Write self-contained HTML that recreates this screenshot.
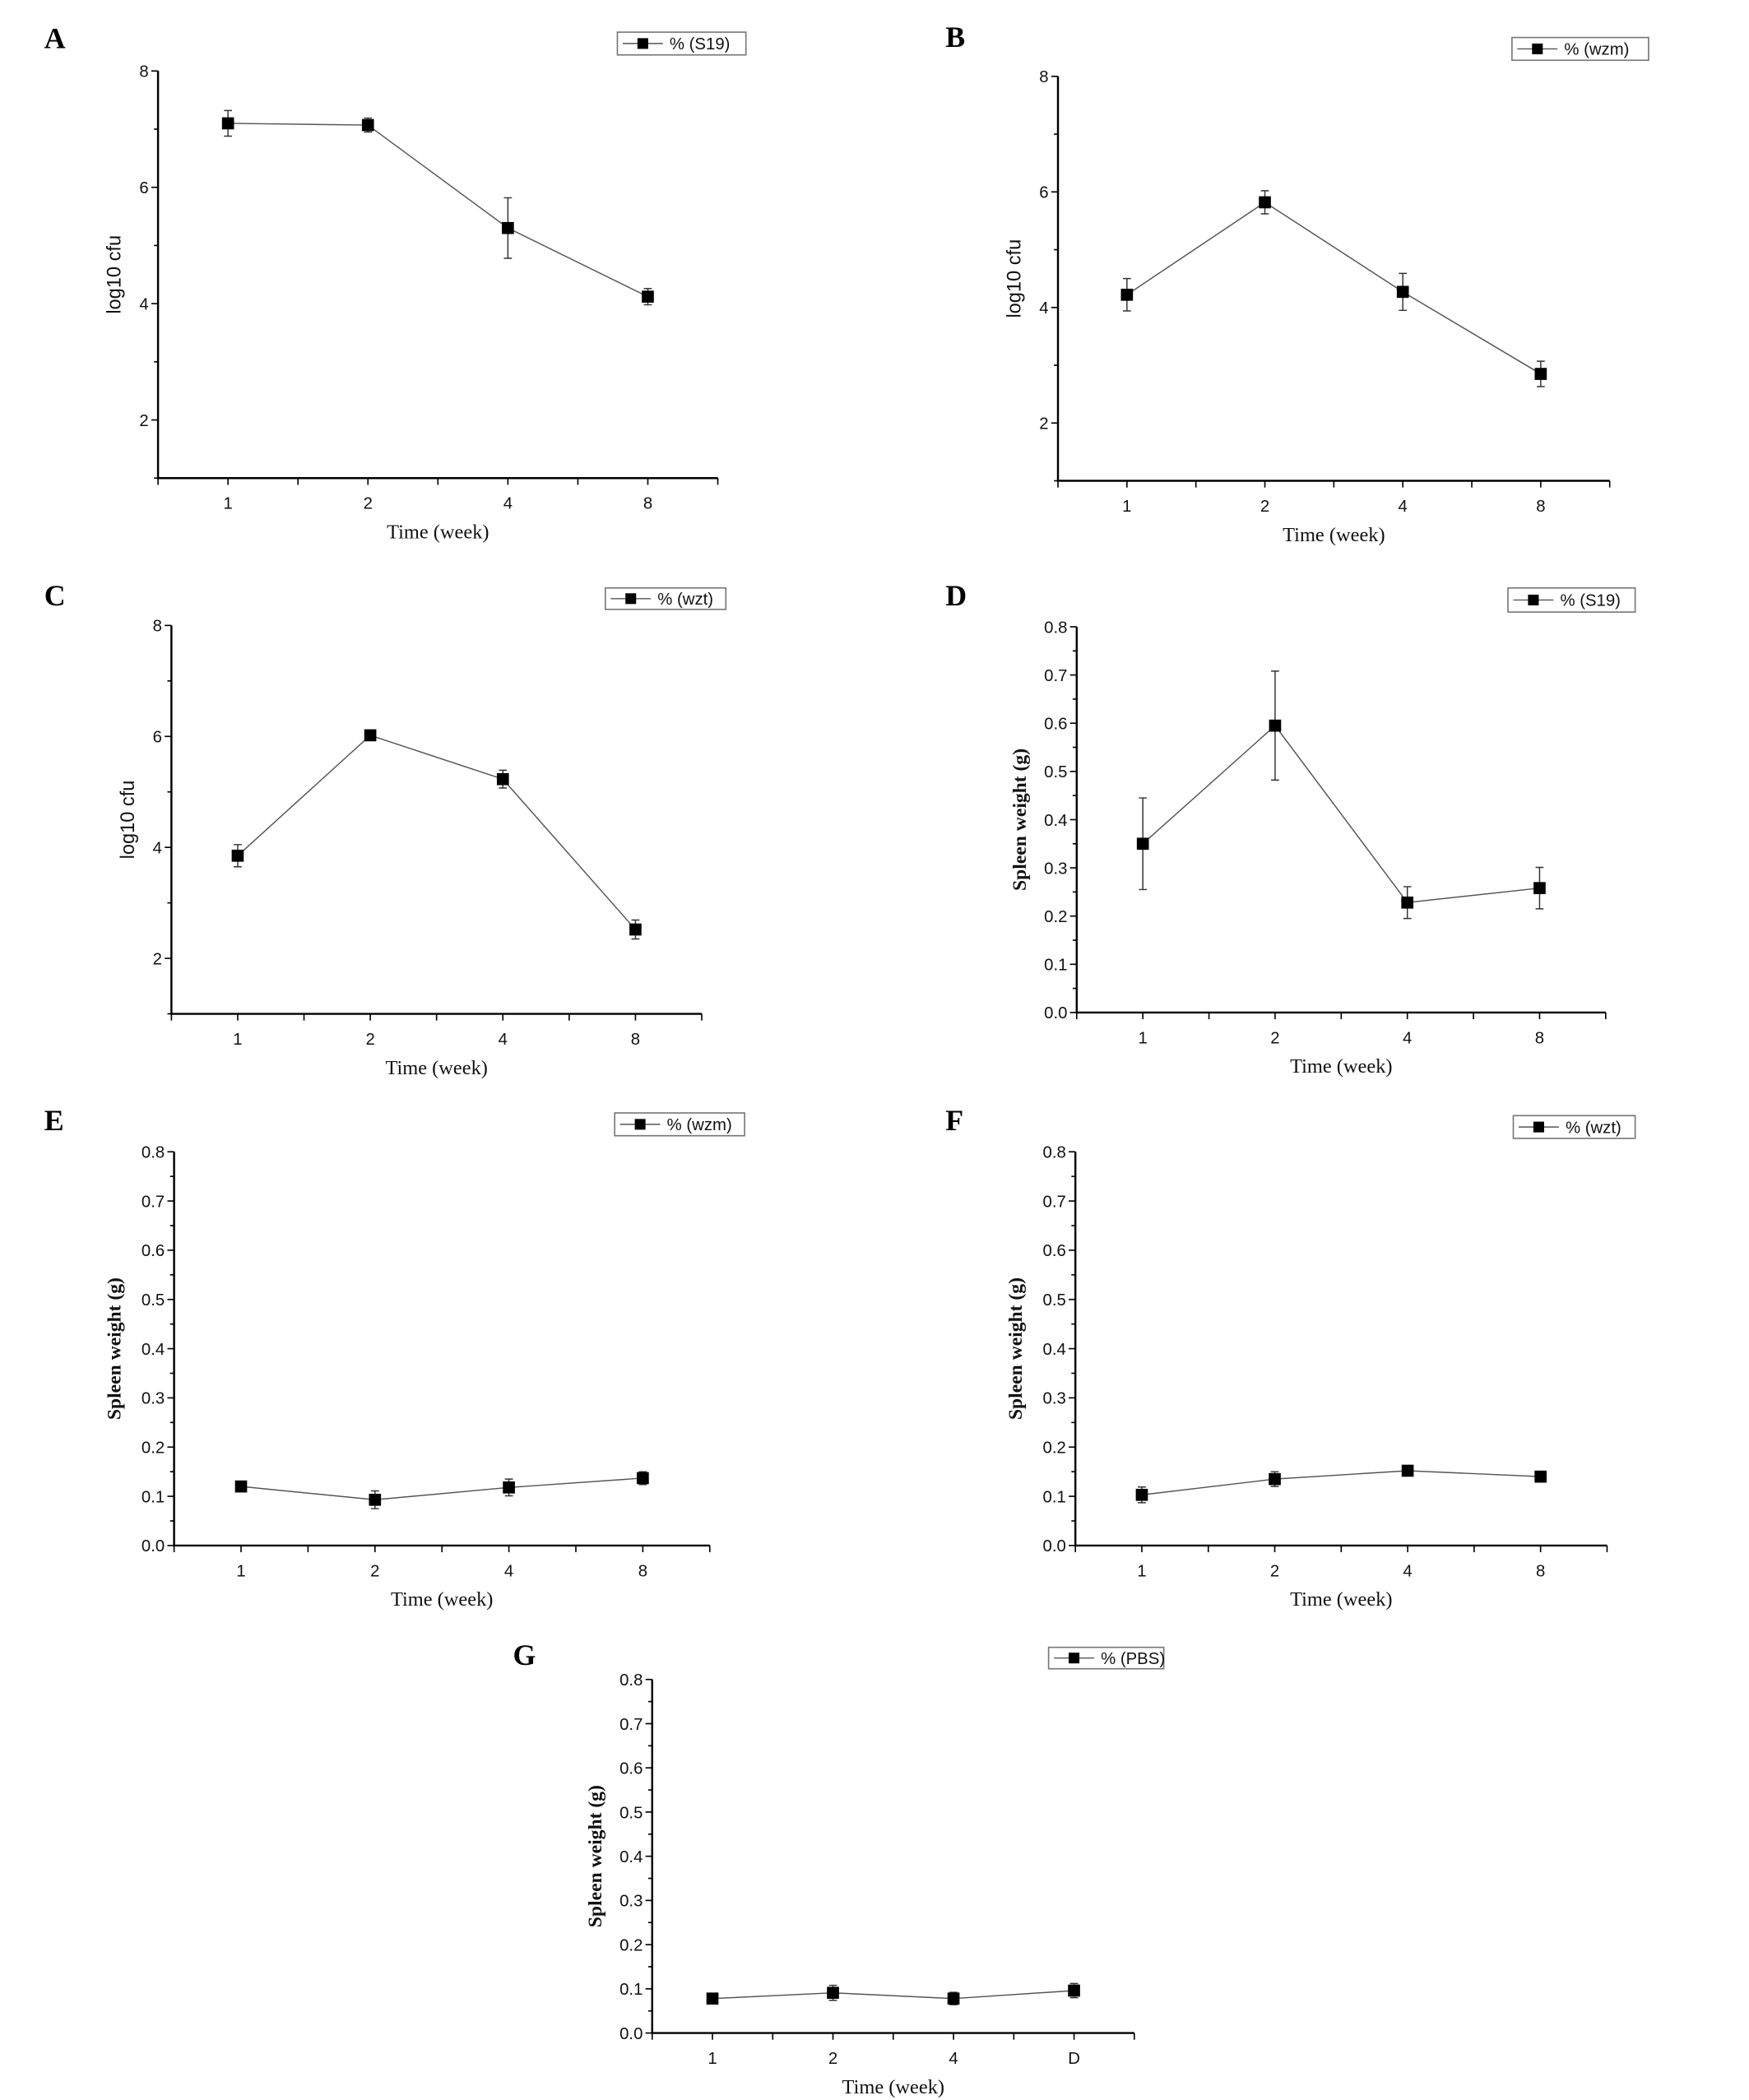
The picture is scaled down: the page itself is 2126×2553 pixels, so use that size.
<!DOCTYPE html>
<html><head><meta charset="utf-8"><style>
html,body{margin:0;padding:0;background:#fff;}
svg{display:block;}
.tick{font-family:"Liberation Sans",sans-serif;font-size:12.5px;fill:#111;}
.ttl{font-family:"Liberation Serif",serif;font-size:15px;fill:#111;}
.ttlb{font-family:"Liberation Serif",serif;font-size:14.5px;font-weight:bold;fill:#111;}
.ytl{font-family:"Liberation Sans",sans-serif;font-size:14.5px;fill:#111;}
.plab{font-family:"Liberation Serif",serif;font-size:22px;font-weight:bold;fill:#000;}
.leg{font-family:"Liberation Sans",sans-serif;font-size:12.5px;fill:#111;}
</style></head><body>
<svg id="fig" width="2126" height="2553" viewBox="0 0 1306 1568" preserveAspectRatio="none"></svg>
<script>
const weeks = ["1","2","4","8"];
const weeksG = ["1","2","4","D"];
const aVals = [7.1, 7.07, 5.3, 4.12];
const aErr = [0.22, 0.12, 0.52, 0.14];
const bVals = [4.22, 5.82, 4.27, 2.85];
const bErr = [0.28, 0.2, 0.32, 0.22];
const cVals = [3.85, 6.02, 5.23, 2.52];
const cErr = [0.2, 0.03, 0.16, 0.17];
const dVals = [0.35, 0.595, 0.228, 0.258];
const dErr = [0.095, 0.113, 0.033, 0.043];
const eVals = [0.12, 0.093, 0.118, 0.137];
const eErr = [0.01, 0.018, 0.017, 0.013];
const fVals = [0.103, 0.135, 0.152, 0.14];
const fErr = [0.016, 0.015, 0.007, 0.004];
const gVals = [0.078, 0.091, 0.078, 0.096];
const gErr = [0.006, 0.017, 0.014, 0.016];
const logTicks = ["2","4","6","8"];
const spTicks = ["0.0","0.1","0.2","0.3","0.4","0.5","0.6","0.7","0.8"];

const NS="http://www.w3.org/2000/svg";
const svg=document.getElementById('fig');
function mk(tag,attrs,parent){const e=document.createElementNS(NS,tag);for(const k in attrs)e.setAttribute(k,attrs[k]);(parent||svg).appendChild(e);return e;}

function panel(p){
  const g=mk('g',{});
  
  
  const yMin=p.yMin,yMax=p.yMax;
  const ys=v=>p.yB+(v-yMin)/(yMax-yMin)*(p.yT-p.yB);
  const step=(p.x1-p.x0)/8;
  const xs=i=>p.x0+step*(2*i+1);
  const pl=mk('text',{x:p.lx,y:p.ly,class:'plab'},g);pl.textContent=p.id;
  
  
  const ax=mk('path',{d:`M${p.x0},${ys(p.topV)}V${p.yB}H${p.x1}`,fill:'none',stroke:'#000','stroke-width':1.5},g);
  
  
  for(let v=p.minorStart;v<=p.topV+1e-9;v+=p.minor){
    const y=ys(v);const maj=Math.abs(Math.round(v/p.major)*p.major-v)<1e-6;
    mk('line',{x1:p.x0-(maj?5:3),x2:p.x0,y1:y,y2:y,stroke:'#000','stroke-width':1},g);
  }
  p.yLabels.forEach(s=>{const v=parseFloat(s);const t=mk('text',{x:p.x0-7,y:ys(v)+4.5,'text-anchor':'end',class:'tick'},g);t.textContent=s;
    
    });
  for(let k=0;k<=8;k++){const x=p.x0+step*k;mk('line',{x1:x,x2:x,y1:p.yB,y2:p.yB+5,stroke:'#000','stroke-width':1},g);}
  p.cats.forEach((c,i)=>{const t=mk('text',{x:xs(i),y:p.yB+23,'text-anchor':'middle',class:'tick'},g);t.textContent=c;
    
    });
  const xt=mk('text',{x:(p.x0+p.x1)/2,y:p.yB+45,'text-anchor':'middle',class:'ttl'},g);xt.textContent='Time (week)';
  
  
  const ycx=p.x0-p.ytOff, ycy=(p.yT+p.yB)/2;
  const yt=mk('text',{x:ycx,y:ycy,'text-anchor':'middle',class:p.log?'ytl':'ttlb',transform:`rotate(-90 ${ycx} ${ycy})`},g);
  yt.textContent=p.log?'log10 cfu':'Spleen weight (g)';
  
  
  const pts=p.vals.map((v,i)=>xs(i)+','+ys(v)).join(' ');
  const ln=mk('polyline',{points:pts,fill:'none',stroke:'#555','stroke-width':0.9},g);
  
  
  p.vals.forEach((v,i)=>{
    const x=xs(i),e=p.err[i];
    mk('path',{d:`M${x},${ys(v-e)}V${ys(v+e)}M${x-3},${ys(v-e)}h6M${x-3},${ys(v+e)}h6`,stroke:'#333','stroke-width':0.9,fill:'none'},g);
    const r=mk('rect',{x:x-4.5,y:ys(v)-4.5,width:9,height:9,fill:'#000'},g);
    
    
  });
  const lg=mk('g',{},g);
  
  
  const [lx0,ly0,lx1,ly1]=p.leg;
  mk('rect',{x:lx0,y:ly0,width:lx1-lx0,height:ly1-ly0,fill:'#fff',stroke:'#777','stroke-width':1},lg);
  const my=(ly0+ly1)/2;
  mk('line',{x1:lx0+4,x2:lx0+34,y1:my,y2:my,stroke:'#555','stroke-width':0.9},lg);
  mk('rect',{x:lx0+15,y:my-4,width:8,height:8,fill:'#000'},lg);
  const lt=mk('text',{x:lx0+39,y:my+4.5,class:'leg'},lg);lt.textContent=p.legText;
}

panel({id:'A',lx:33,ly:36,x0:118,x1:536,yT:53,yB:357,yMin:1,yMax:8,topV:8,minor:1,minorStart:1,major:2,yLabels:logTicks,cats:weeks,vals:aVals,err:aErr,leg:[461,24,557,41],legText:'% (S19)',log:true,ytOff:28});
panel({id:'B',lx:706,ly:35,x0:790,x1:1202,yT:57,yB:359,yMin:1,yMax:8,topV:8,minor:1,minorStart:1,major:2,yLabels:logTicks,cats:weeks,vals:bVals,err:bErr,leg:[1129,28,1231,45],legText:'% (wzm)',log:true,ytOff:28});
panel({id:'C',lx:33,ly:452,x0:128,x1:524,yT:467,yB:757,yMin:1,yMax:8,topV:8,minor:1,minorStart:1,major:2,yLabels:logTicks,cats:weeks,vals:cVals,err:cErr,leg:[452,439,542,455],legText:'% (wzt)',log:true,ytOff:28});
panel({id:'D',lx:706,ly:452,x0:804,x1:1199,yT:468,yB:756,yMin:0,yMax:0.8,topV:0.8,minor:0.05,minorStart:0,major:0.1,yLabels:spTicks,cats:weeks,vals:dVals,err:dErr,leg:[1126,439,1221,457],legText:'% (S19)',log:false,ytOff:38});
panel({id:'E',lx:33,ly:844,x0:130,x1:530,yT:860,yB:1154,yMin:0,yMax:0.8,topV:0.8,minor:0.05,minorStart:0,major:0.1,yLabels:spTicks,cats:weeks,vals:eVals,err:eErr,leg:[459,831,556,848],legText:'% (wzm)',log:false,ytOff:40});
panel({id:'F',lx:706,ly:844,x0:803,x1:1200,yT:860,yB:1154,yMin:0,yMax:0.8,topV:0.8,minor:0.05,minorStart:0,major:0.1,yLabels:spTicks,cats:weeks,vals:fVals,err:fErr,leg:[1130,833,1221,850],legText:'% (wzt)',log:false,ytOff:40});
panel({id:'G',lx:383,ly:1243,x0:487,x1:847,yT:1254,yB:1518,yMin:0,yMax:0.8,topV:0.8,minor:0.05,minorStart:0,major:0.1,yLabels:spTicks,cats:weeksG,vals:gVals,err:gErr,leg:[783,1230,869,1246],legText:'% (PBS)',log:false,ytOff:38});
</script>
</body></html>
